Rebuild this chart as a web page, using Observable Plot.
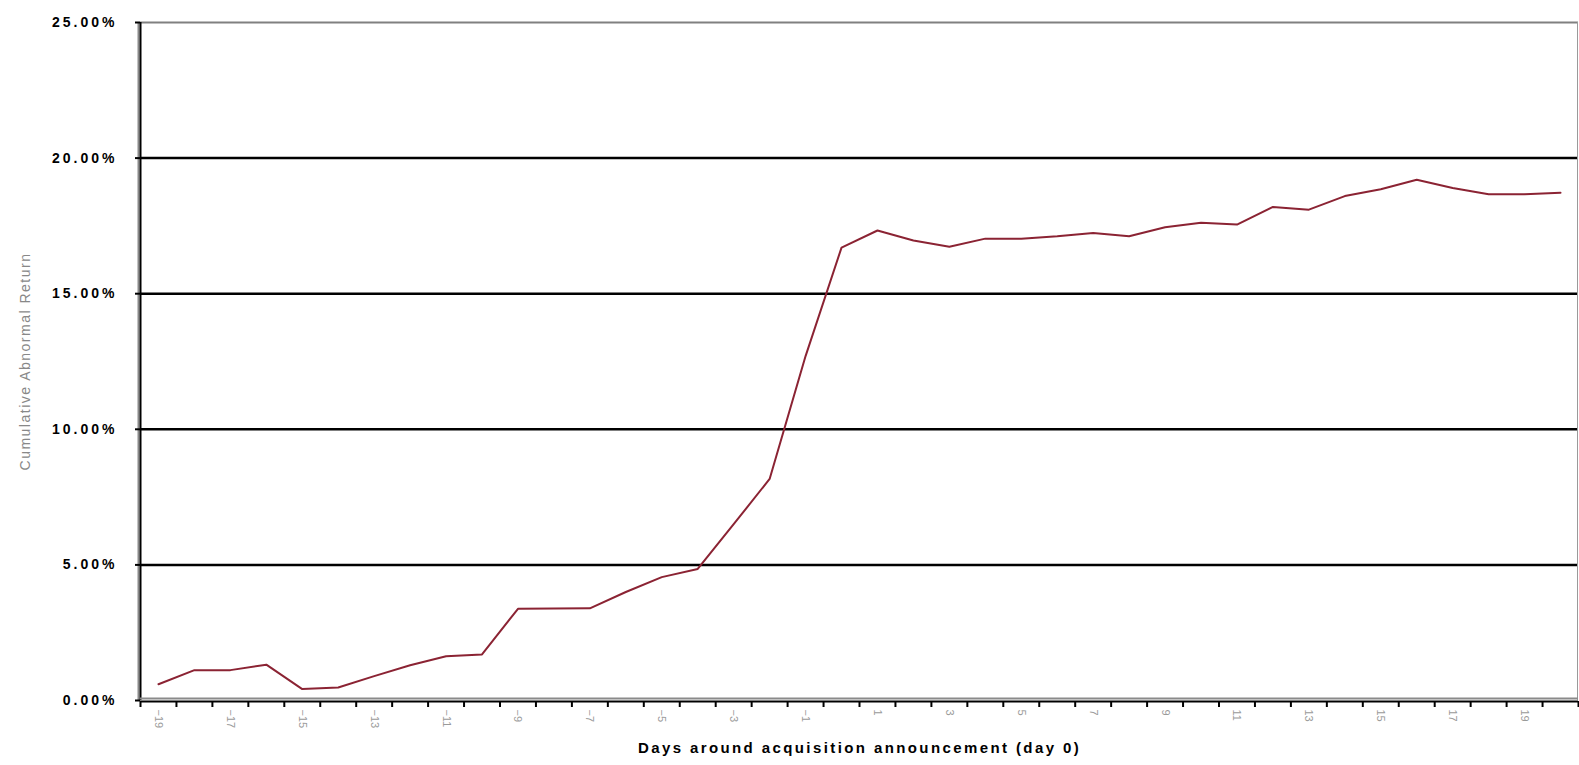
<!DOCTYPE html>
<html>
<head>
<meta charset="utf-8">
<script src="https://cdn.jsdelivr.net/npm/d3@7"></script>
<script src="https://cdn.jsdelivr.net/npm/@observablehq/plot@0.6"></script>
<style>
  html, body { margin: 0; padding: 0; background: #fff; }
  #chart svg { display: block; }
</style>
</head>
<body>
<div id="chart"></div>
<script>
// Days around the announcement (day 0)
const days = [-19,-18,-17,-16,-15,-14,-13,-12,-11,-10,-9,-8,-7,-6,-5,-4,-3,-2,-1,0,
              1,2,3,4,5,6,7,8,9,10,11,12,13,14,15,16,17,18,19,20];
// Cumulative abnormal return (%)
const carValues = [0.60,1.12,1.12,1.32,0.42,0.48,0.90,1.30,1.63,1.70,3.38,3.39,3.40,4.00,4.55,4.85,6.50,8.17,12.70,16.70,
                   17.33,16.96,16.73,17.03,17.03,17.12,17.24,17.12,17.45,17.62,17.55,18.20,18.10,18.60,18.85,19.20,18.90,18.67,18.67,18.72];
const yTicks = [0, 5, 10, 15, 20, 25];
const xLabelDays = [-19,-17,-15,-13,-11,-9,-7,-5,-3,-1,1,3,5,7,9,11,13,15,17,19];
const xTitle = "Days around acquisition announcement (day 0)";
const yTitle = "Cumulative Abnormal Return";

const data = days.map((d, i) => ({day: d, car: carValues[i]}));
const xDomain = [days[0] - 0.5, days[days.length - 1] + 0.5];
const boundaries = d3.range(days.length + 1).map(i => xDomain[0] + i);

const chart = Plot.plot({
  width: 1579,
  height: 765,
  marginLeft: 140,
  marginRight: 1,
  marginTop: 22,
  marginBottom: 65,
  style: {fontFamily: "Arial, 'Liberation Sans', sans-serif", background: "#fff"},
  x: {domain: xDomain},
  y: {domain: [0, 25]},
  marks: [
    Plot.gridY([5, 10, 15, 20], {stroke: "#000", strokeOpacity: 1, strokeWidth: 2.5}),
    Plot.ruleY([25], {stroke: "#808080", strokeWidth: 2}),
    Plot.ruleX([xDomain[1]], {stroke: "#9a9a9a", strokeWidth: 1, dx: -1}),
    Plot.ruleX([xDomain[0]], {stroke: "#8a8a8a", strokeWidth: 2, dx: -2}),
    Plot.ruleX([xDomain[0]], {stroke: "#000", strokeWidth: 2}),
    Plot.ruleY([0], {stroke: "#8a8a8a", strokeWidth: 2, dy: -2}),
    Plot.ruleY([0], {stroke: "#000", strokeWidth: 2, dy: 1}),
    Plot.axisY(yTicks, {
      tickSize: 5, tickPadding: 18, strokeWidth: 2, stroke: "#000",
      tickFormat: d => d.toFixed(2) + "%", label: null,
      fontSize: 14, fontWeight: "bold", fill: "#000"
    }),
    Plot.axisX(boundaries, {
      tickSize: 6, tickFormat: () => "", strokeWidth: 2, stroke: "#000", label: null, dy: 1
    }),
    Plot.axisX(xLabelDays, {
      tickSize: 0, tickPadding: 9, tickRotate: 90, label: null,
      fontSize: 11, fill: "#9a9a9a"
    }),
    Plot.line(data, {x: "day", y: "car", stroke: "#8b2333", strokeWidth: 2}),
    Plot.text([xTitle], {frameAnchor: "bottom", dy: 52, fontSize: 15, fontWeight: "bold", fill: "#000"}),
    Plot.text([yTitle], {frameAnchor: "left", dx: -115, rotate: -90, textAnchor: "middle", fontSize: 14, fill: "#888"})
  ]
});
document.getElementById("chart").appendChild(chart);

// letter spacing to mimic the wide original glyphs
d3.select(chart).selectAll('g[aria-label="y-axis tick label"] text').attr("letter-spacing", "3px");
const texts = d3.select(chart).selectAll('g[aria-label="text"]');
texts.filter((d, i) => i === 0).selectAll("text").attr("letter-spacing", "2.4px");
texts.filter((d, i) => i === 1).selectAll("text").attr("letter-spacing", "1.5px");
</script>
</body>
</html>
